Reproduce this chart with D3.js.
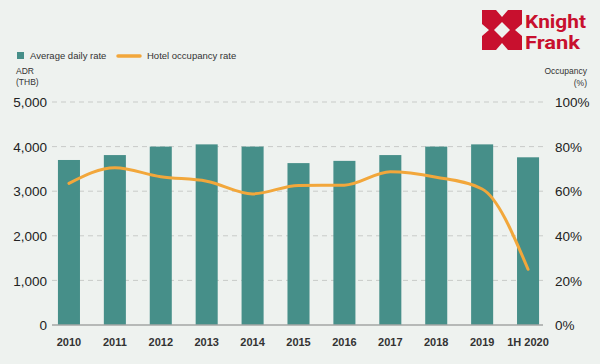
<!DOCTYPE html>
<html><head><meta charset="utf-8">
<script src="https://cdn.jsdelivr.net/npm/d3@7"></script>
<style>
html,body{margin:0;padding:0;background:#eef2ef;}
svg{display:block;font-family:"Liberation Sans",Arial,sans-serif;}
</style></head>
<body><svg id="c" width="600" height="364"></svg>
<script>
const categories = ["2010","2011","2012","2013","2014","2015","2016","2017","2018","2019","1H 2020"];
const adrValues = [3700,3810,4000,4050,4000,3630,3680,3810,4000,4050,3760];
const occupancyValues = [63.5,70.5,66.5,64.5,58.8,62.6,62.7,68.7,66.3,61.0,25.0];
const leftTicks = [0,1000,2000,3000,4000,5000];
const rightTicks = [0,20,40,60,80,100];

const svg = d3.select("#c");
svg.append("rect").attr("width",600).attr("height",364).attr("fill","#eef2ef");

const x = d3.scaleBand().domain(categories).range([46,551]).paddingInner(0.52).paddingOuter(0.26);
const yL = d3.scaleLinear().domain([0,5000]).range([325,102]);
const yR = d3.scaleLinear().domain([0,100]).range([325,102]);

// gridlines
svg.append("g").selectAll("line").data(leftTicks.filter(d=>d>0)).join("line")
  .attr("x1",52).attr("x2",543).attr("y1",d=>yL(d)).attr("y2",d=>yL(d))
  .attr("stroke","#c8cbc8").attr("stroke-width",1).attr("stroke-dasharray","5,4");

// bars
svg.append("g").selectAll("rect").data(adrValues).join("rect")
  .attr("x",(d,i)=>x(categories[i])).attr("width",x.bandwidth())
  .attr("y",d=>yL(d)).attr("height",d=>yL(0)-yL(d)).attr("fill","#468f89");

// baseline
svg.append("line").attr("x1",52).attr("x2",543).attr("y1",yL(0)).attr("y2",yL(0))
  .attr("stroke","#a3a6a4").attr("stroke-width",1.5);

// occupancy line
const line = d3.line().x((d,i)=>x(categories[i])+x.bandwidth()/2).y(d=>yR(d)).curve(d3.curveMonotoneX);
svg.append("path").datum(occupancyValues).attr("d",line).attr("fill","none")
  .attr("stroke","#f2a73b").attr("stroke-width",3).attr("stroke-linecap","round");

// left axis
const axL = d3.axisLeft(yL).tickValues(leftTicks).tickFormat(d3.format(",")).tickSize(0).tickPadding(0);
const gL = svg.append("g").attr("transform","translate(47,0)").call(axL);
gL.select(".domain").remove();
gL.selectAll("text").attr("font-size",13.5).attr("fill","#222").attr("font-family","Liberation Sans, Arial, sans-serif").attr("dy","0.35em");

// right axis
const axR = d3.axisRight(yR).tickValues(rightTicks).tickFormat(d=>d+"%").tickSize(0).tickPadding(0);
const gR = svg.append("g").attr("transform","translate(555,0)").call(axR);
gR.select(".domain").remove();
gR.selectAll("text").attr("font-size",13.5).attr("fill","#222").attr("font-family","Liberation Sans, Arial, sans-serif").attr("dy","0.35em");

// x axis labels
const axB = d3.axisBottom(x).tickSize(0).tickPadding(0);
const gB = svg.append("g").attr("transform","translate(0,338)").call(axB);
gB.select(".domain").remove();
gB.selectAll("text").attr("font-size",11).attr("font-weight","bold").attr("fill","#333").attr("font-family","Liberation Sans, Arial, sans-serif").attr("dy","0.7em");

// axis titles
const t = svg.append("g").attr("font-size",8.5).attr("fill","#333");
t.append("text").attr("x",16).attr("y",74).text("ADR");
t.append("text").attr("x",16).attr("y",85).text("(THB)");
t.append("text").attr("x",587).attr("y",74).attr("text-anchor","end").text("Occupancy");
t.append("text").attr("x",587).attr("y",86).attr("text-anchor","end").text("(%)");

// legend
const lg = svg.append("g").attr("font-size",9.5).attr("fill","#333");
lg.append("rect").attr("x",17).attr("y",52).attr("width",7).attr("height",7).attr("fill","#468f89");
lg.append("text").attr("x",30).attr("y",59).text("Average daily rate");
lg.append("line").attr("x1",118).attr("x2",140).attr("y1",56).attr("y2",56).attr("stroke","#f2a73b").attr("stroke-width",3.5).attr("stroke-linecap","round");
lg.append("text").attr("x",147).attr("y",59).text("Hotel occupancy rate");

// logo
const red = "#c8102e";
const logo = svg.append("g").attr("transform","translate(482,10)");
logo.append("path").attr("fill",red).attr("fill-rule","evenodd")
  .attr("d","M0,0H40V40H0Z M14,0L20,7L26,0Z M40,14L33,20L40,26Z M14,40L20,33L26,40Z M0,14L7,20L0,26Z M20,12L28,20L20,28L12,20Z");
const lt = svg.append("g").attr("fill",red).attr("font-weight","bold").attr("font-size",19).attr("font-family","Roboto, Arial, sans-serif");
lt.append("text").attr("x",525).attr("y",27.5).attr("textLength",61).attr("lengthAdjust","spacingAndGlyphs").text("Knight");
lt.append("text").attr("x",525).attr("y",48.5).attr("textLength",55).attr("lengthAdjust","spacingAndGlyphs").text("Frank");
</script></body></html>
